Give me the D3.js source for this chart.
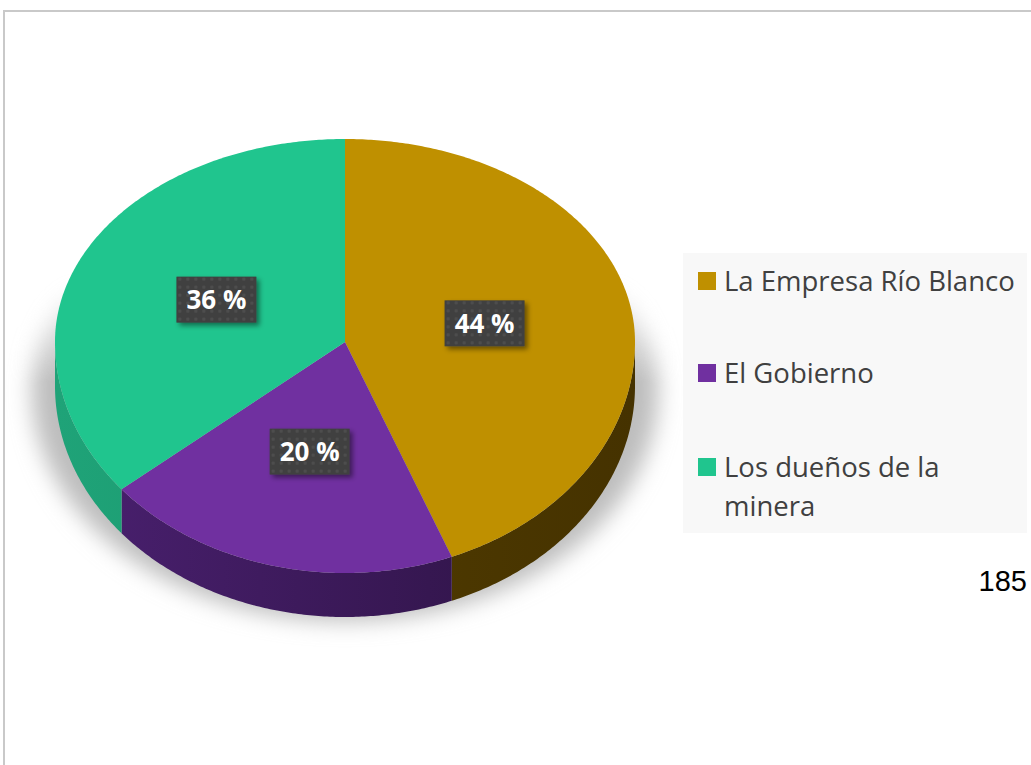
<!DOCTYPE html>
<html>
<head>
<meta charset="utf-8">
<script src="https://cdn.jsdelivr.net/npm/d3@7"></script>
<style>
  body { margin: 0; background: #fff; }
  svg { display: block; }
</style>
</head>
<body>
<div id="chart"></div>
<script>
// data
var categories = ['La Empresa Río Blanco', 'El Gobierno', 'Los dueños de la minera'];
var values = [44, 20, 36];
var topColors = ['#bf9000', '#7030a0', '#20c58e'];
var sideColors = [['#5a4300', '#453200'], ['#4a2070', '#2b1240'], ['#1fa378', '#168a62']];
var legendLines = [['La Empresa Río Blanco'], ['El Gobierno'], ['Los dueños de la', 'minera']];
var pageNumber = '185';

var width = 1031, height = 765;
var cx = 345, cy = 342, rx = 290, ryTop = 203, ryBottom = 231, depth = 44;

var svg = d3.select('#chart').append('svg')
  .attr('width', width)
  .attr('height', height);

var defs = svg.append('defs');

defs.append('filter').attr('id', 'shadowBlur')
  .attr('x', '-20%').attr('y', '-20%').attr('width', '140%').attr('height', '140%')
  .append('feGaussianBlur').attr('stdDeviation', 11);

var boxShadow = defs.append('filter').attr('id', 'boxShadow')
  .attr('x', '-30%').attr('y', '-30%').attr('width', '160%').attr('height', '160%');
boxShadow.append('feDropShadow')
  .attr('dx', 3).attr('dy', 3).attr('stdDeviation', 2.5)
  .attr('flood-color', '#000').attr('flood-opacity', 0.45);

var pattern = defs.append('pattern').attr('id', 'dots')
  .attr('width', 8).attr('height', 8).attr('patternUnits', 'userSpaceOnUse');
pattern.append('rect').attr('width', 8).attr('height', 8).attr('fill', '#3f3f3f');
pattern.append('rect').attr('x', 2).attr('y', 2).attr('width', 3).attr('height', 3).attr('fill', '#4e4e4e');

sideColors.forEach(function(c, i) {
  var g = defs.append('linearGradient').attr('id', 'side' + i)
    .attr('gradientUnits', 'userSpaceOnUse')
    .attr('x1', cx - rx).attr('x2', cx + rx).attr('y1', 0).attr('y2', 0);
  g.append('stop').attr('offset', '0%').attr('stop-color', c[0]);
  g.append('stop').attr('offset', '100%').attr('stop-color', c[1]);
});

// shadow fades in from the middle of the pie downwards
var mask = defs.append('mask').attr('id', 'shadowMask');
var mg = defs.append('linearGradient').attr('id', 'maskGrad')
  .attr('gradientUnits', 'userSpaceOnUse')
  .attr('x1', 0).attr('x2', 0).attr('y1', cy - 70).attr('y2', cy + 40);
mg.append('stop').attr('offset', '0%').attr('stop-color', '#000');
mg.append('stop').attr('offset', '100%').attr('stop-color', '#fff');
mask.append('rect').attr('x', 0).attr('y', 0).attr('width', 700).attr('height', height)
  .attr('fill', 'url(#maskGrad)');

// page frame
svg.append('line').attr('x1', 3).attr('x2', width).attr('y1', 11).attr('y2', 11)
  .attr('stroke', '#c9c9c9').attr('stroke-width', 2);
svg.append('line').attr('x1', 4).attr('x2', 4).attr('y1', 11).attr('y2', height)
  .attr('stroke', '#c9c9c9').attr('stroke-width', 2);

// pie geometry
var pie = d3.pie().sort(null).startAngle(0).endAngle(2 * Math.PI);
var arcs = pie(values);

function pt(t, dy) {
  var c = Math.cos(t);
  var ry = c > 0 ? ryTop : ryBottom;
  return [cx + rx * Math.sin(t), cy - ry * c + (dy || 0)];
}

function arcPoints(a, b, dy) {
  var n = Math.max(2, Math.ceil((b - a) / 0.01));
  return d3.range(n + 1).map(function(k) { return pt(a + (b - a) * k / n, dy); });
}

var line = d3.line();

// shadow
var outline = arcPoints(0, 2 * Math.PI, depth + 4).map(function(p) {
  return [cx + (p[0] - cx) * 1.08, p[1]];
});
svg.append('g').attr('mask', 'url(#shadowMask)')
  .append('path')
  .attr('d', line(outline) + 'Z')
  .attr('fill', '#bdbdbd')
  .attr('filter', 'url(#shadowBlur)');

// sides (front half only)
var sides = svg.append('g');
arcs.forEach(function(d, i) {
  var a = Math.max(d.startAngle, Math.PI / 2);
  var b = Math.min(d.endAngle, 3 * Math.PI / 2);
  if (b <= a) return;
  var topPts = arcPoints(a, b, 0);
  var botPts = arcPoints(a, b, depth).reverse();
  sides.append('path')
    .attr('d', line(topPts.concat(botPts)) + 'Z')
    .attr('fill', 'url(#side' + i + ')');
});

// top faces
var faces = svg.append('g');
faces.selectAll('path')
  .data(arcs)
  .enter().append('path')
  .attr('d', function(d) {
    return line([[cx, cy]].concat(arcPoints(d.startAngle, d.endAngle, 0))) + 'Z';
  })
  .attr('fill', function(d, i) { return topColors[i]; });

// data labels
var labels = svg.append('g');
arcs.forEach(function(d, i) {
  var m = (d.startAngle + d.endAngle) / 2;
  var p = pt(m, 0);
  var f = 0.49;
  var x = cx + (p[0] - cx) * f, y = cy + (p[1] - cy) * f;
  var g = labels.append('g').attr('transform', 'translate(' + x + ',' + y + ')');
  g.append('rect')
    .attr('x', -40).attr('y', -23).attr('width', 80).attr('height', 46)
    .attr('fill', 'url(#dots)')
    .attr('filter', 'url(#boxShadow)');
  g.append('text')
    .attr('text-anchor', 'middle')
    .attr('dy', '0.36em')
    .attr('fill', '#fff')
    .style('font-family', '"Open Sans", sans-serif')
    .style('font-weight', 'bold')
    .style('font-size', '26px')
    .text(d.data + ' %');
});

// legend
var legend = svg.append('g');
legend.append('rect')
  .attr('x', 683).attr('y', 253).attr('width', 344).attr('height', 280)
  .attr('fill', '#f8f8f8');
var legendY = [281, 373, 467];
categories.forEach(function(c, i) {
  legend.append('rect')
    .attr('x', 698).attr('y', legendY[i] - 9).attr('width', 18).attr('height', 18)
    .attr('fill', topColors[i]);
  var t = legend.append('text')
    .attr('x', 724).attr('y', legendY[i])
    .attr('fill', '#404040')
    .style('font-family', '"Open Sans", sans-serif')
    .style('font-size', '27.5px');
  legendLines[i].forEach(function(s, k) {
    t.append('tspan').attr('x', 724).attr('dy', k === 0 ? '0.36em' : '1.42em').text(s);
  });
});

// page number
svg.append('text')
  .attr('x', 1027).attr('y', 591)
  .attr('text-anchor', 'end')
  .attr('fill', '#000')
  .style('font-family', '"Liberation Sans", Arial, sans-serif')
  .style('font-size', '29px')
  .text(pageNumber);
</script>
</body>
</html>
